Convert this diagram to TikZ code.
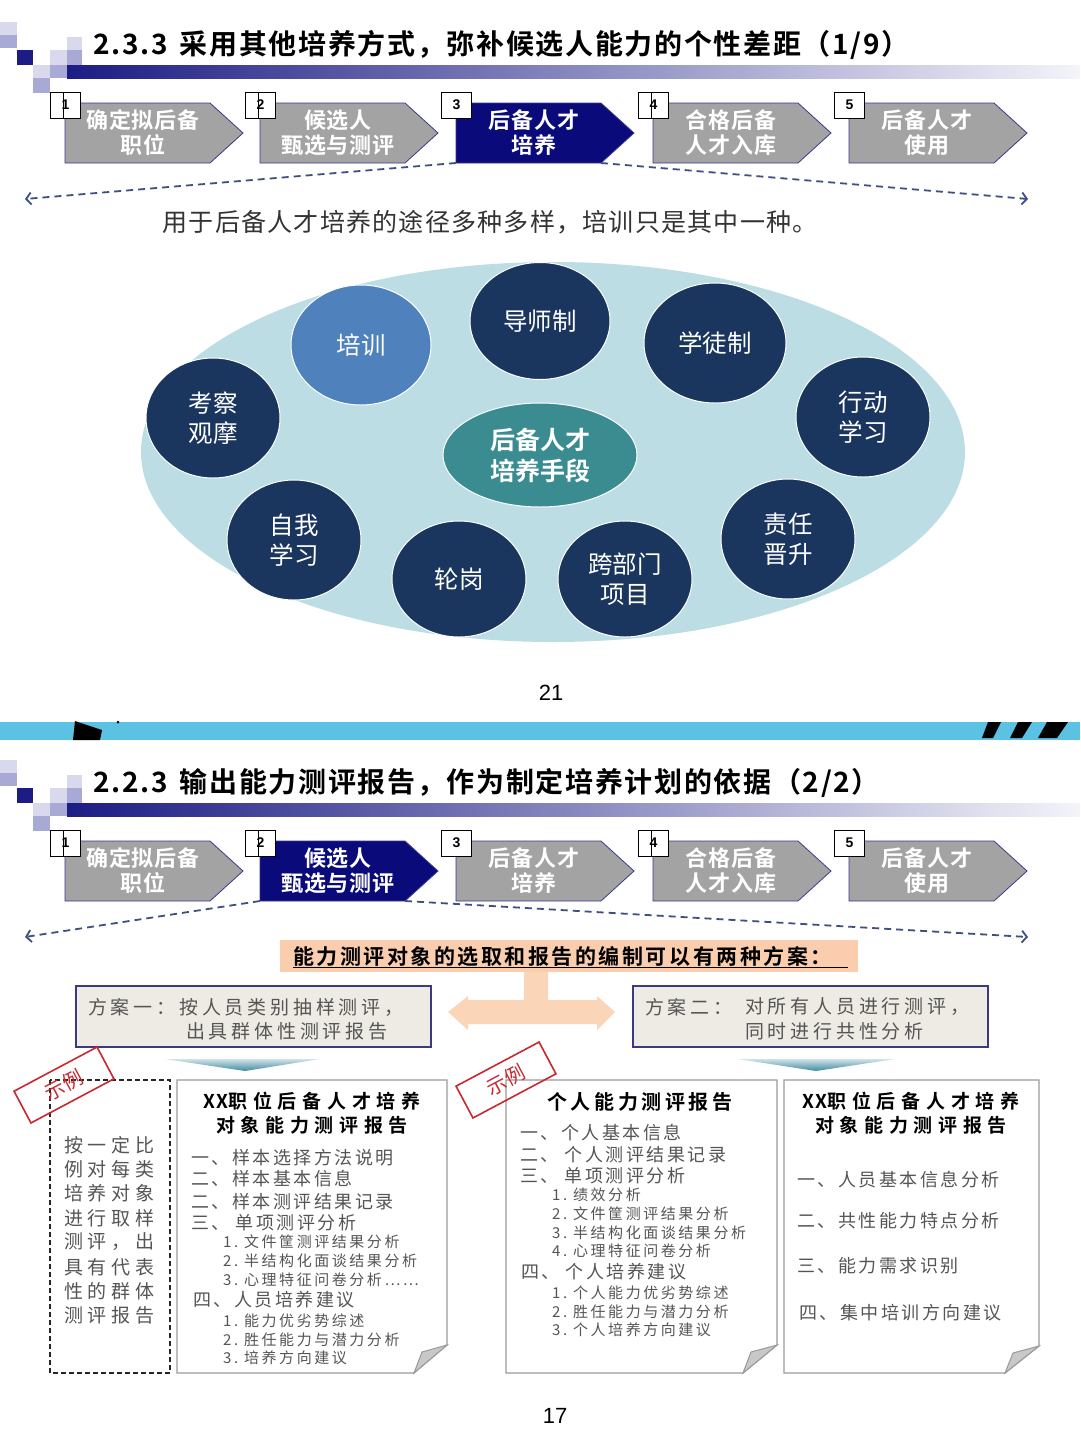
\documentclass[tikz,border=0pt]{standalone}
\usepackage{fontspec}
\setmainfont{Noto Sans CJK SC}[BoldFont={Noto Sans CJK SC Bold}]
\newfontfamily\arialf{Liberation Sans}
\usetikzlibrary{arrows.meta,shapes.geometric}
\definecolor{navyA}{HTML}{0A0A7A}
\definecolor{chevgray}{HTML}{A3A3A3}
\definecolor{chevline}{HTML}{3A3A8C}
\definecolor{dashc}{HTML}{3E4F80}
\definecolor{ellbg}{HTML}{BCDDE3}
\definecolor{circnavy}{HTML}{1B365E}
\definecolor{circblue}{HTML}{4F81BD}
\definecolor{tealc}{HTML}{3A8C90}
\definecolor{bandc}{HTML}{5BC2E4}
\definecolor{peach}{HTML}{F9CDAE}
\definecolor{peachar}{HTML}{FAD5B8}
\definecolor{boxfill}{HTML}{EDEBE3}
\definecolor{boxline}{HTML}{3A3A84}
\definecolor{txtgray}{HTML}{555555}
\definecolor{stampred}{HTML}{C8282E}
\definecolor{sqlight}{HTML}{D9D9EE}
\definecolor{sqmid}{HTML}{A9A9D6}
\definecolor{sqdark}{HTML}{1C1C84}
\definecolor{wedgec}{HTML}{3F8CA0}
\definecolor{foldgray}{HTML}{C8C8C8}
\definecolor{docline}{HTML}{9A9A9A}

\newcommand\myheader[4]{%
\begin{scope}[shift={(0,#2)}]
 \fill[sqlight] (0,22) rectangle (17,35);
 \fill[sqmid] (0,35) rectangle (17,48);
 \fill[sqdark] (17,50) rectangle (33,65);
 \fill[sqlight] (33,65) rectangle (50,78);
 \fill[sqmid] (33,78) rectangle (50,93);
 \fill[sqlight] (50,50) rectangle (67,65);
 \fill[sqmid] (50,65) rectangle (67,78);
 \fill[sqlight] (67,37) rectangle (82,50);
 \fill[sqmid] (67,50) rectangle (82,65);
 \shade[left color=sqdark, middle color=sqmid!70, right color=sqlight!30] (67,65) rectangle (1080,78);
 \node[titlef, anchor=west] (#1-title) at (93,45) {#4};
 \foreach \i/\xx/\ta/\tb in {1/65/确定拟后备/职位, 2/260/候选人/甄选与测评, 3/456/后备人才/培养, 4/653/合格后备/人才入库, 5/849/后备人才/使用}{
   \ifnum\i=#3\def\cf{navyA}\else\def\cf{chevgray}\fi
   \filldraw[fill=\cf, draw=chevline, line width=0.8pt] (\xx,103) -- ++(145,0) -- ++(33,30) -- ++(-33,30) -- ++(-145,0) -- cycle;
   \node[chevtxt] (#1-c\i) at ({\xx+78},133) {\ta\\\tb};
   \coordinate (#1-c\i-sw) at (\xx,163);
   \coordinate (#1-c\i-se) at ({\xx+145},163);
   \node[numbox] (#1-n\i) at ({\xx+0.5},105) {\i};
   \ifnum\i=3\else\ifnum\i=5\else\draw[line width=0.9pt] ({\xx-2},92) -- ({\xx-2},118);\fi\fi
 }
 \coordinate (#1-L) at (25,199);
 \coordinate (#1-R) at (1028,199);
 \draw[dashln] (#1-c#3-sw) -- (#1-L);
 \draw[dashln] (#1-c#3-se) -- (#1-R);
\end{scope}}

\newcommand\mystamp[3]{%
 \draw[draw=stampred, line width=1.6pt, rotate around={28:(#1,#2)}] ({#1-47},{#2-18}) rectangle ({#1+47},{#2+18});
 \node[inner sep=0pt, rotate=28, text=stampred, font=\fontsize{20}{22}\selectfont] (#3) at (#1,#2) {示例};
}

\begin{document}
\begin{tikzpicture}[x=1pt,y=-1pt,
 titlef/.style={inner sep=0pt, font=\fontsize{28}{30}\selectfont\bfseries\addfontfeature{LetterSpace=6}, text=black},
 chevtxt/.style={inner sep=0pt, align=center, text=white, font=\fontsize{22}{25}\selectfont\bfseries\addfontfeature{LetterSpace=4}},
 numbox/.style={draw=black, fill=white, line width=1pt, minimum width=30, minimum height=26, inner sep=0pt, font=\arialf\fontsize{14}{15}\selectfont\bfseries},
 dashln/.style={draw=dashc, line width=1.8pt, dash pattern=on 7pt off 5pt, -{Straight Barb[length=5pt,width=12pt]}},
 circ/.style={ellipse, fill=circnavy, draw=white, line width=1pt, minimum width=134, minimum height=120, inner sep=0pt, text=white, align=center, font=\fontsize{24.5}{30}\selectfont},
 pagenum/.style={inner sep=0pt, font=\arialf\fontsize{22}{24}\selectfont},
 planbox/.style={draw=boxline, fill=boxfill, line width=1.2pt},
 plantxt/.style={anchor=west, inner sep=0pt, text=txtgray, font=\fontsize{19}{22}\selectfont\addfontfeature{LetterSpace=20}},
 doc/.style={draw=docline, fill=white, line width=1.2pt},
 fold/.style={draw=docline, fill=foldgray, line width=1pt},
 doctitle/.style={inner sep=0pt, align=center, text=black, font=\fontsize{19}{24}\selectfont\bfseries\addfontfeature{LetterSpace=30}},
 itemA/.style={anchor=west, inner sep=0pt, text=txtgray, font=\fontsize{18}{20}\selectfont\addfontfeature{LetterSpace=14}},
 itemB/.style={anchor=west, inner sep=0pt, text=txtgray, font=\fontsize{15}{17}\selectfont\addfontfeature{LetterSpace=17}},
 lefttxt/.style={anchor=west, inner sep=0pt, text=txtgray, font=\fontsize{19}{22}\selectfont\addfontfeature{LetterSpace=25}}
]
\useasboundingbox (0,0) rectangle (1080,1443);
\fill[white] (0,0) rectangle (1080,1443);

% ===== top slide =====
\myheader{A}{0}{3}{2.3.3\hspace{12pt}采用其他培养方式，弥补候选人能力的个性差距（1/9）}

\node[inner sep=0pt, text=black!80, font=\fontsize{25}{27}\selectfont\addfontfeature{LetterSpace=5}] (sub) at (490,222) {用于后备人才培养的途径多种多样，培训只是其中一种。};

\node[ellipse, fill=ellbg, minimum width=824, minimum height=380, inner sep=0pt] (bigell) at (553,452) {};
\node[circ, fill=circblue, minimum width=140] (px) at (361,345) {培训};
\node[circ, minimum width=140, minimum height=117] (ds) at (540,321) {导师制};
\node[circ, minimum width=142] (xt) at (715,343) {学徒制};
\node[circ] (kc) at (213,418) {考察\\观摩};
\node[circ] (xd) at (863,417) {行动\\学习};
\node[circ, fill=tealc, minimum width=194, minimum height=104, font=\fontsize{25}{31}\selectfont\bfseries] (ctr) at (540,455) {后备人才\\培养手段};
\node[circ] (zw) at (294,540) {自我\\学习};
\node[circ, minimum height=116] (lg) at (459,579) {轮岗};
\node[circ, minimum height=116] (kb) at (625,579) {跨部门\\项目};
\node[circ] (zr) at (788,539) {责任\\晋升};

\node[pagenum] (p21) at (551,693) {21};

% ===== band =====
\fill[bandc] (0,722) rectangle (1080,740);
\fill[black] (75,721) -- (102,730) -- (100,740) -- (73,740) -- cycle;
\fill[black] (118,722) circle (1.5);
\fill[black] (988,722) -- (1001,722) -- (993,738) -- (982,738) -- cycle;
\fill[black] (1018,722) -- (1032,722) -- (1022,738) -- (1010,738) -- cycle;
\fill[black] (1047,722) -- (1068,722) -- (1057,738) -- (1038,738) -- cycle;

% ===== bottom slide =====
\myheader{B}{738}{2}{2.2.3\hspace{12pt}输出能力测评报告，作为制定培养计划的依据（2/2）}

\fill[peach] (280,940) rectangle (858,972);
\node[anchor=west, inner sep=0pt, text=black, font=\fontsize{21}{23}\selectfont\bfseries\addfontfeature{LetterSpace=12}] (banner) at (293,957) {\underline{\makebox[555pt][l]{能力测评对象的选取和报告的编制可以有两种方案：}}};

\fill[peachar] (524,972) -- (548,972) -- (548,1000) -- (597,1000) -- (597,996) -- (615,1012) -- (597,1030) -- (597,1024) -- (468,1024) -- (468,1030) -- (448,1012) -- (468,996) -- (468,1000) -- (524,1000) -- cycle;

\draw[planbox] (76,986) rectangle (431,1047);
\node[plantxt] (p1a) at (88,1007) {方案一：按人员类别抽样测评，};
\node[plantxt] (p1b) at (186,1031) {出具群体性测评报告};
\draw[planbox] (633,986) rectangle (988,1047);
\node[plantxt] (p2a) at (645,1007) {方案二：};
\node[plantxt] (p2b) at (745,1007) {对所有人员进行测评，};
\node[plantxt] (p2c) at (745,1031) {同时进行共性分析};

\shade[top color=white!75!wedgec, bottom color=wedgec] (165,1059) -- (320,1059) -- (245,1071) -- cycle;
\shade[top color=white!75!wedgec, bottom color=wedgec] (738,1059) -- (895,1059) -- (816,1071) -- cycle;

% left dashed box
\draw[black!85, line width=1.5pt, dash pattern=on 5pt off 3pt] (50,1080) rectangle (170,1373);
\foreach \t/\yy [count=\k] in {按一定比/1145, 例对每类/1169, 培养对象/1193, 进行取样/1218, 测评，出/1242, 具有代表/1267, 性的群体/1291, 测评报告/1315}{
  \node[lefttxt] (lt\k) at (64,\yy) {\t};
}

% doc box 1
\draw[doc] (177,1080) -- (447,1080) -- (447,1345) -- (414,1373) -- (177,1373) -- cycle;
\draw[fold] (447,1345) -- (414,1373) -- (422,1352) -- cycle;
\node[doctitle] (d1t) at (312,1113) {{\addfontfeature{LetterSpace=6}XX}职位后备人才培养\\对象能力测评报告};
\node[itemA] (d1a) at (191,1158) {一、样本选择方法说明};
\node[itemA] (d1b) at (191,1179) {二、样本基本信息};
\node[itemA] (d1c) at (191,1202) {二、样本测评结果记录};
\node[itemA] (d1d) at (191,1223) {三、\hspace{6pt}单项测评分析};
\node[itemB] (d1e) at (223,1242) {1.~文件筐测评结果分析};
\node[itemB] (d1f) at (223,1261) {2.~半结构化面谈结果分析};
\node[itemB] (d1g) at (223,1280) {3.~心理特征问卷分析……};
\node[itemA] (d1h) at (193,1300) {四、人员培养建议};
\node[itemB] (d1i) at (223,1321) {1.~能力优劣势综述};
\node[itemB] (d1j) at (223,1340) {2.~胜任能力与潜力分析};
\node[itemB] (d1k) at (223,1358) {3.~培养方向建议};

% doc box 2
\draw[doc] (506,1080) -- (777,1080) -- (777,1345) -- (743,1373) -- (506,1373) -- cycle;
\draw[fold] (777,1345) -- (743,1373) -- (751,1352) -- cycle;
\node[doctitle, font=\fontsize{20}{24}\selectfont\bfseries\addfontfeature{LetterSpace=18}] (d2t) at (640,1102) {个人能力测评报告};
\node[itemA] (d2a) at (520,1133) {一、个人基本信息};
\node[itemA] (d2b) at (520,1155) {二、\hspace{6pt}个人测评结果记录};
\node[itemA] (d2c) at (520,1176) {三、\hspace{6pt}单项测评分析};
\node[itemB] (d2d) at (552,1195) {1.~绩效分析};
\node[itemB] (d2e) at (552,1214) {2.~文件筐测评结果分析};
\node[itemB] (d2f) at (552,1233) {3.~半结构化面谈结果分析};
\node[itemB] (d2g) at (552,1251) {4.~心理特征问卷分析};
\node[itemA] (d2h) at (521,1272) {四、\hspace{6pt}个人培养建议};
\node[itemB] (d2i) at (552,1293) {1.~个人能力优劣势综述};
\node[itemB] (d2j) at (552,1312) {2.~胜任能力与潜力分析};
\node[itemB] (d2k) at (552,1330) {3.~个人培养方向建议};

% doc box 3
\draw[doc] (784,1080) -- (1039,1080) -- (1039,1346) -- (1005,1373) -- (784,1373) -- cycle;
\draw[fold] (1039,1346) -- (1005,1373) -- (1013,1353) -- cycle;
\node[doctitle] (d3t) at (911,1113) {{\addfontfeature{LetterSpace=6}XX}职位后备人才培养\\对象能力测评报告};
\node[itemA] (d3a) at (797,1180) {一、人员基本信息分析};
\node[itemA] (d3b) at (797,1221) {二、共性能力特点分析};
\node[itemA] (d3c) at (797,1266) {三、能力需求识别};
\node[itemA] (d3d) at (799,1313) {四、集中培训方向建议};

% stamps
\mystamp{64}{1085}{st1}
\mystamp{506}{1080}{st2}

\node[pagenum] (p17) at (555,1416) {17};
\end{tikzpicture}
\end{document}
